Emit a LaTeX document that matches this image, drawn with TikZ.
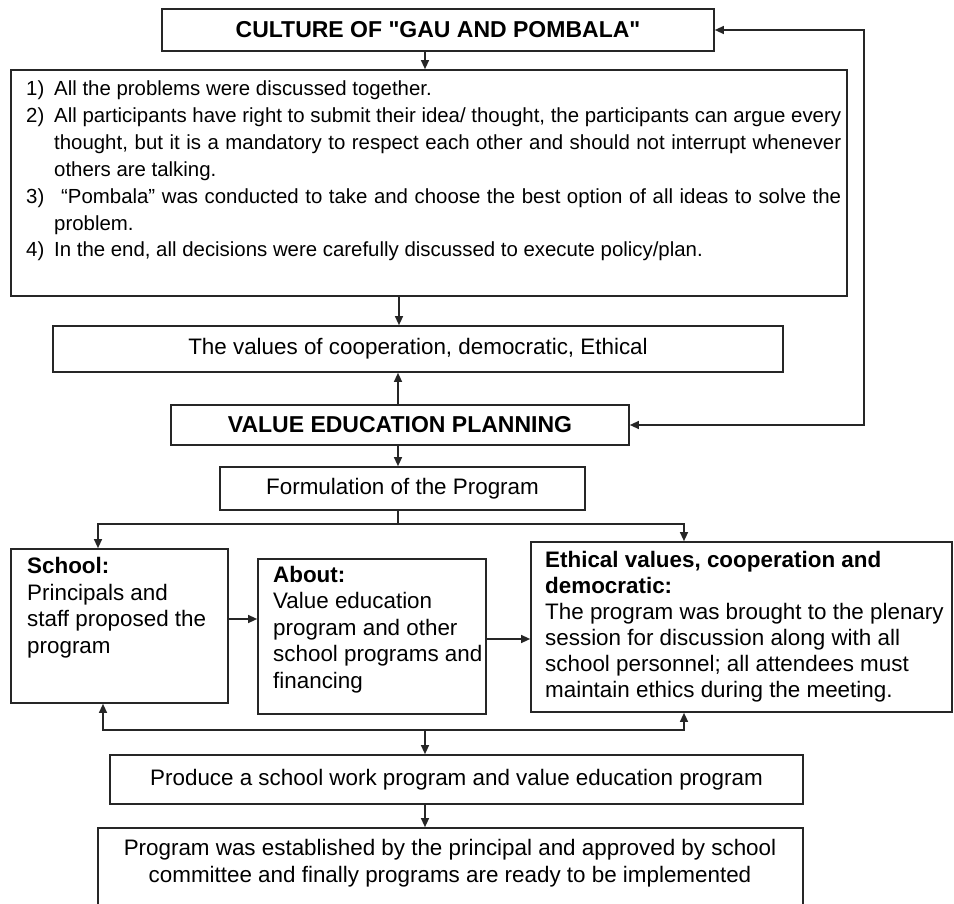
\documentclass[tikz,border=0pt]{standalone}
\usepackage{fontspec}
\setmainfont{Liberation Sans}
\usetikzlibrary{arrows.meta}
\begin{document}
\begin{tikzpicture}[x=1pt,y=-1pt,
  box/.style={draw=black!85, line width=1.7pt, inner sep=0pt, rectangle},
  conn/.style={draw=black!85, line width=1.3pt},
  arr/.style={conn, -{Triangle[length=9pt,width=8pt]}},
  darr/.style={conn, {Triangle[length=9pt,width=8pt]}-{Triangle[length=9pt,width=8pt]}},
  bodyfont/.style={font=\fontsize{22.4}{26.5}\selectfont},
  ethfont/.style={font=\fontsize{22.4}{26}\selectfont},
  listfont/.style={font=\fontsize{20.4}{26.9}\selectfont},
  titlefont/.style={font=\fontsize{23}{27}\selectfont\bfseries},
  txt/.style={inner sep=0pt, align=left}
]
\useasboundingbox (0,0) rectangle (954,904);
\clip (0,0) rectangle (954,904);

% boxes
\node[box, minimum width=552pt, minimum height=42pt, titlefont] (culture) at (438,30) {\addfontfeature{Ligatures=TeXOff}CULTURE OF "GAU AND POMBALA"};
\node[box, minimum width=836pt, minimum height=226pt] (list) at (429,183) {};
\node[box, minimum width=730pt, minimum height=46pt, bodyfont] (values) at (418,349) {The values of cooperation, democratic, Ethical};
\node[box, minimum width=458pt, minimum height=40pt, titlefont] (vep) at (400,425) {VALUE EDUCATION PLANNING};
\node[box, minimum width=365pt, minimum height=43pt, bodyfont] (form) at (402.5,488.5) {Formulation of the Program};
\node[box, minimum width=217pt, minimum height=154pt] (school) at (119.5,626) {};
\node[box, minimum width=228pt, minimum height=155pt] (about) at (372,636.5) {};
\node[box, minimum width=421pt, minimum height=170pt] (ethical) at (741.5,627) {};
\node[box, minimum width=693pt, minimum height=49pt, bodyfont] (produce) at (456.5,779.5) {Produce a school work program and value education program};
\node[box, minimum width=705pt, minimum height=87pt] (final) at (450.5,871.5) {};

% texts (base anchor = baseline of the last line)
\node[txt, listfont, anchor=base west] (listtxt) at (26,257) {%
\makebox[28pt][l]{1)}All the problems were discussed together.\\
\makebox[28pt][l]{2)}\makebox[787pt][s]{All participants have right to submit their idea/ thought, the participants can argue every}\\
\hspace*{28pt}\makebox[787pt][s]{thought, but it is a mandatory to respect each other and should not interrupt whenever}\\
\hspace*{28pt}others are talking.\\
\makebox[28pt][l]{3)}\makebox[787pt][s]{\hspace*{7pt}“Pombala” was conducted to take and choose the best option of all ideas to solve the}\\
\hspace*{28pt}problem.\\
\makebox[28pt][l]{4)}In the end, all decisions were carefully discussed to execute policy/plan.};
\node[txt, bodyfont, anchor=base west] (schooltxt) at (27,653) {\textbf{School:}\\ Principals and\\ staff proposed the\\ program};
\node[txt, bodyfont, anchor=base west] (abouttxt) at (273,688) {\textbf{About:}\\ Value education\\ program and other\\ school programs and\\ financing};
\node[txt, ethfont, anchor=base west] (ethtxt) at (545,697) {\textbf{Ethical values, cooperation and}\\ \textbf{democratic:}\\ The program was brought to the plenary\\ session for discussion along with all\\ school personnel; all attendees must\\ maintain ethics during the meeting.};
\node[inner sep=0pt, align=center, bodyfont, anchor=base] (finaltxt) at (450,882) {Program was established by the principal and approved by school\\ committee and finally programs are ready to be implemented};

% connectors
\coordinate (xa) at (425,0);
\coordinate (xb) at (399,0);
\coordinate (xc) at (398,0);
\coordinate (xfb) at (864,0);
\coordinate (xl) at (98,0);
\coordinate (xl2) at (103,0);
\coordinate (xr) at (684,0);
\coordinate (busT) at (0,524);
\coordinate (busB) at (0,730);
\coordinate (ysa) at (0,619);
\coordinate (yae) at (0,639);

\draw[arr] (culture.south -| xa) -- (list.north -| xa);
\draw[darr] (culture.east) -- (culture.east -| xfb) -- (vep.east -| xfb) -- (vep.east);
\draw[arr] (list.south -| xb) -- (values.north -| xb);
\draw[arr] (vep.north -| xc) -- (values.south -| xc);
\draw[arr] (vep.south -| xc) -- (form.north -| xc);
\draw[conn] (form.south -| xc) -- (busT -| xc);
\draw[darr] (school.north -| xl) -- (busT -| xl) -- (busT -| xr) -- (ethical.north -| xr);
\draw[arr] (school.east |- ysa) -- (about.west |- ysa);
\draw[arr] (about.east |- yae) -- (ethical.west |- yae);
\draw[darr] (school.south -| xl2) -- (busB -| xl2) -- (busB -| xr) -- (ethical.south -| xr);
\draw[arr] (busB -| xa) -- (produce.north -| xa);
\draw[arr] (produce.south -| xa) -- (final.north -| xa);
\end{tikzpicture}
\end{document}
